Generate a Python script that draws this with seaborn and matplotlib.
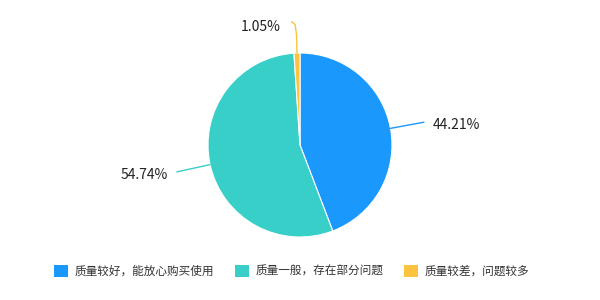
import numpy as np
import matplotlib
matplotlib.use("Agg")
import matplotlib.pyplot as plt
from matplotlib.patches import Patch
import seaborn as sns

categories = ["质量较好，能放心购买使用", "质量一般，存在部分问题", "质量较差，问题较多"]
shares = [44.21, 54.74, 1.05]
value_labels = ["44.21%", "54.74%", "1.05%"]
colors = ["#1A98FC", "#37CFC8", "#FCC43E"]

sns.set_theme(style="white")
plt.rcParams["font.family"] = ["Noto Sans CJK SC", "DejaVu Sans"]

palette = sns.color_palette(colors)

fig = plt.figure(figsize=(6, 3), dpi=100)
ax = fig.add_axes([0, 0, 1, 1])

wedges, _ = ax.pie(
    shares,
    colors=palette,
    startangle=90,
    counterclock=False,
    radius=1.0,
    wedgeprops=dict(edgecolor="white", linewidth=0.8),
)
# pie() resets the limits, so set the view afterwards
ax.set_xlim(-300 / 92, 300 / 92)
ax.set_ylim(-155 / 92, 145 / 92)
ax.set_axis_off()

# leader lines and value labels, placed along each slice's mid-angle
for w, lab, col in zip(wedges, value_labels, palette):
    mid = np.deg2rad((w.theta1 + w.theta2) / 2)
    cx, cy = np.cos(mid), np.sin(mid)
    if abs(cx) < 0.2:
        # small slice at the top: rise up then bend left
        x0, y0 = cx, cy
        xs = [x0, x0 - 0.005, x0 - 0.02, x0 - 0.06]
        ys = [y0, 1.2, 1.31, 1.34]
        ax.plot(xs, ys, color=col, lw=1.0, solid_capstyle="round")
        ax.text(xs[-1] - 0.12, 1.28, lab, ha="right", va="center",
                fontsize=10, color="#222222")
    else:
        r_end = 1.37
        ax.plot([cx, cx * r_end], [cy, cy * r_end], color=col, lw=1.0)
        side = 1 if cx > 0 else -1
        ax.text(cx * r_end + side * 0.1, cy * r_end - 0.03, lab,
                ha="left" if side > 0 else "right", va="center",
                fontsize=10, color="#222222")

handles = [Patch(facecolor=c, edgecolor="none") for c in palette]
fig.legend(
    handles, categories,
    loc="center", bbox_to_anchor=(291.5 / 600, 1 - 271 / 300),
    ncol=3, frameon=False, fontsize=8.4,
    handlelength=1.2, handleheight=1.2, handletextpad=0.55,
    columnspacing=1.8, labelcolor="#333333",
)

fig.savefig("out.png", dpi=100, facecolor="white")
